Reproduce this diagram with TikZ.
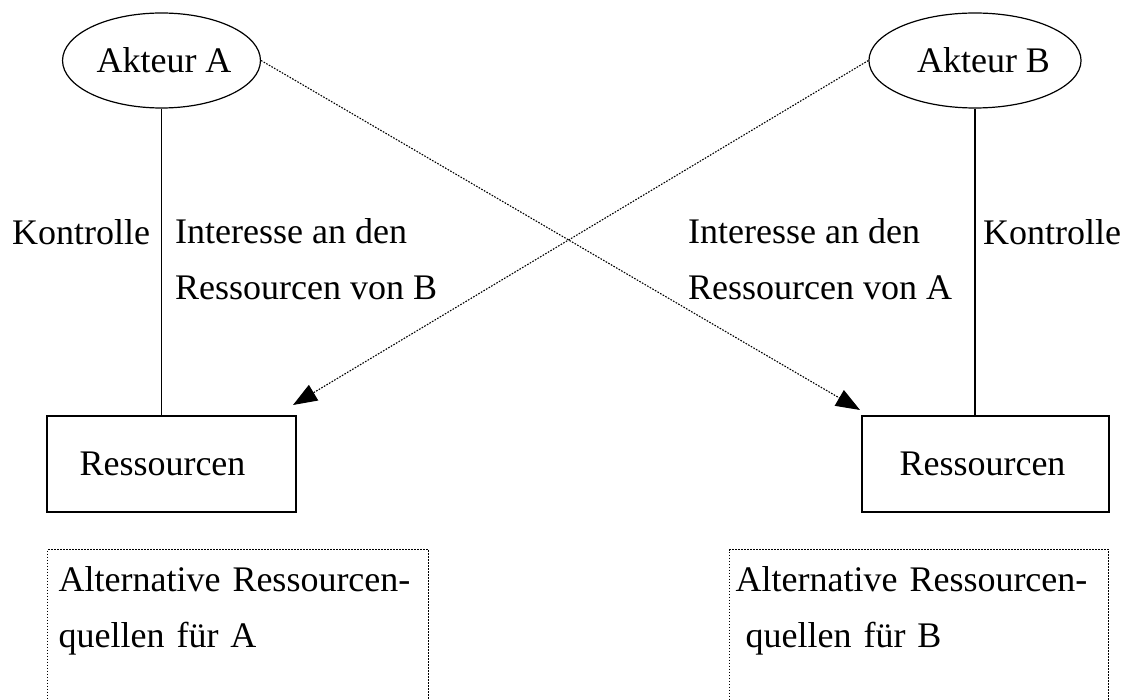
\documentclass[tikz,border=0pt]{standalone}
\usepackage{fontspec}
\setmainfont{Liberation Serif}
\usetikzlibrary{shapes.geometric,arrows.meta}

\begin{document}
\begin{tikzpicture}[x=1pt,y=-1pt,
  every node/.style={font=\fontsize{36}{56}\selectfont},
  akteur/.style={draw,ellipse,line width=1.2pt,minimum width=191pt,minimum height=95pt,inner sep=0pt},
  ressource/.style={draw,rectangle,line width=1.2pt,minimum width=249pt,minimum height=96pt,inner sep=0pt},
  punktiert/.style={dash pattern=on 1.6pt off 1.4pt,line width=1.1pt},
  altbox/.style={draw,punktiert,anchor=north west,align=left,inner ysep=17pt,text depth=150pt},
  interesse/.style={punktiert,-{Triangle[length=24pt,width=18pt]}},
  beschriftung/.style={inner sep=0pt,anchor=base west,align=left}]
\clip (0,0) rectangle (1128,700);

% draw the two actors
\node[akteur] (akteurA) at (161.5,60.5) {\hspace*{5pt}Akteur A};
\node[akteur] (akteurB) at (975,60.5) {\hspace*{17pt}Akteur B};

% draw the resources
\node[ressource] (resA) at (171.5,464) {Ressourcen\hspace*{18pt}};
\node[ressource, minimum width=247pt] (resB) at (985.5,464) {Ressourcen\hspace*{6pt}};

% draw control lines
\draw[line width=1.2pt] (akteurA.south) -- (akteurA.south |- resA.north);
\draw[line width=1.2pt] (akteurB.south) -- (akteurB.south |- resB.north);

% draw interest arrows
\coordinate (spitzeA) at (293,405);
\coordinate (spitzeB) at (860,410);
\draw[interesse] (akteurA.east) -- (spitzeB);
\draw[interesse] (akteurB.west) -- (spitzeA);

% labels (base is the last line)
\node[beschriftung] (kontrolleA) at (12,245) {Kontrolle};
\node[beschriftung] (interesseA) at (175,300) {Interesse an den\\Ressourcen von B};
\node[beschriftung] (interesseB) at (688,300) {Interesse an den\\Ressourcen von A};
\node[beschriftung] (kontrolleB) at (983,245) {Kontrolle};

% alternative sources
\node[altbox, minimum width=381pt, inner xsep=11pt, text width=359pt] (altA) at (47,549)
  {Alternative Ressourcen-\\quellen für A};
\node[altbox, minimum width=379pt, inner xsep=6pt, text width=367pt] (altB) at (729,549)
  {Alternative Ressourcen-\\\hspace*{10pt}quellen für B};
\end{tikzpicture}
\end{document}
